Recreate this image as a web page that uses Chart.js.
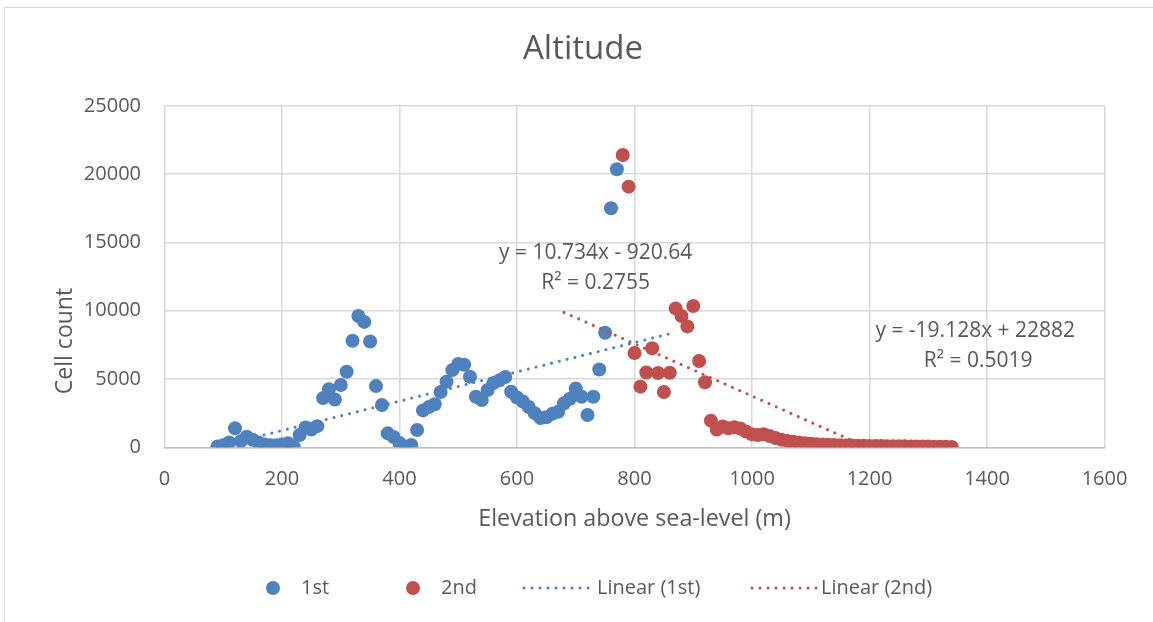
<!DOCTYPE html>
<html>
<head>
<meta charset="utf-8">
<script src="https://cdn.jsdelivr.net/npm/chart.js@4.4.1/dist/chart.umd.min.js"></script>
<style>
  html, body { margin: 0; padding: 0; background: #fff; }
  #wrap { position: relative; width: 1153px; height: 622px; overflow: hidden; }
  #frame { position: absolute; left: 4px; top: 7px; width: 1170px; height: 640px; border: 1px solid #d9d9d9; box-sizing: border-box; }
  #chart { position: absolute; left: 0; top: 0; }
</style>
</head>
<body>
<div id="wrap">
  <div id="frame"></div>
  <canvas id="chart" width="1153" height="622"></canvas>
</div>
<script>
// ── Data ──────────────────────────────────────────────────────────────────────
const elev1 = [90, 100, 110, 120, 130, 140, 150, 160, 170, 180, 190, 200, 210, 220, 230, 240, 250, 260,
  270, 280, 290, 300, 310, 320, 330, 340, 350, 360, 370, 380, 390, 400, 410, 420, 430, 440, 450, 460,
  470, 480, 490, 500, 510, 520, 530, 540, 550, 560, 570, 580, 590, 600, 610, 620, 630, 640, 650, 660,
  670, 680, 690, 700, 710, 720, 730, 740, 750, 760, 770];
const count1 = [50, 150, 350, 1390, 450, 780, 550, 350, 200, 150, 150, 200, 300, 50, 900, 1450, 1300, 1550,
  3600, 4250, 3500, 4560, 5530, 7800, 9610, 9180, 7750, 4480, 3100, 1020, 750, 320, 60, 170, 1270, 2700, 2950, 3150,
  4050, 4800, 5650, 6100, 6050, 5170, 3700, 3460, 4200, 4700, 4900, 5150, 4070, 3650, 3350, 2950, 2500, 2150, 2200, 2450,
  2600, 3220, 3550, 4300, 3700, 2360, 3700, 5700, 8390, 17500, 20350];

const elev2 = [780, 790, 800, 810, 820, 830, 840, 850, 860, 870, 880, 890, 900, 910, 920, 930, 940, 950,
  960, 970, 980, 990, 1000, 1010, 1020, 1030, 1040, 1050, 1060, 1070, 1080, 1090, 1100, 1110, 1120, 1130,
  1140, 1150, 1160, 1170, 1180, 1190, 1200, 1210, 1220, 1230, 1240, 1250, 1260, 1270, 1280, 1290, 1300,
  1310, 1320, 1330, 1340];
const count2 = [21400, 19080, 6900, 4440, 5480, 7250, 5440, 4050, 5460, 10170, 9610, 8850, 10340, 6320, 4760, 1950, 1300, 1520,
  1400, 1460, 1380, 1150, 950, 900, 950, 820, 680, 560, 470, 400, 350, 300, 260, 230, 200, 180,
  160, 145, 135, 125, 115, 105, 100, 95, 90, 85, 80, 75, 70, 65, 60, 55, 50,
  45, 40, 35, 30];

// trendline equations as shown on the chart
const trend1 = { slope: 10.734, intercept: -920.64, from: 90, to: 870 };
const trend2 = { slope: -19.128, intercept: 22882, from: 680, to: 1340 };
const trendText1 = ['y = 10.734x - 920.64', 'R² = 0.2755'];
const trendText2 = ['y = -19.128x + 22882', 'R² = 0.5019'];

const xTicks = { min: 0, max: 1600, step: 200 };
const yTicks = { min: 0, max: 25000, step: 5000 };

// ── Style ─────────────────────────────────────────────────────────────────────
const blue = '#4f81bd';
const red = '#c0504d';
const textColor = '#595959';
const gridColor = '#d9d9d9';
const family = '"Open Sans", "Noto Sans", sans-serif';

// label anchors, in data units
const trendLabelPos = [
  { lines: trendText1, at: [[734, 14224], [734, 12030]] },
  { lines: trendText2, at: [[1380, 8480], [1385, 6318]] },
];

// legend layout, in pixels
const legendY = 588;
const legendItems = [
  { text: '1st', color: blue, kind: 'dot', x: 273, textX: 301 },
  { text: '2nd', color: red, kind: 'dot', x: 413, textX: 441 },
  { text: 'Linear (1st)', color: blue, kind: 'line', x: 524, textX: 597 },
  { text: 'Linear (2nd)', color: red, kind: 'line', x: 752, textX: 821 },
];

const toPoints = (xs, ys) => xs.map((x, i) => ({ x, y: ys[i] }));
const trendPoints = t => [t.from, t.to].map(x => ({ x, y: t.slope * x + t.intercept }));

// ── Overlay: titles, trendline labels, legend ────────────────────────────────
const overlay = {
  id: 'overlay',
  afterDraw(chart) {
    const { ctx, scales: { x, y } } = chart;
    ctx.save();
    ctx.fillStyle = textColor;
    ctx.textBaseline = 'middle';
    ctx.textAlign = 'center';

    ctx.font = `33px ${family}`;
    ctx.fillText('Altitude', 583, 50);

    // y axis title sits a bit below the plot's middle in the original
    ctx.save();
    ctx.font = `23px ${family}`;
    ctx.translate(65, 341);
    ctx.rotate(-Math.PI / 2);
    ctx.fillText('Cell count', 0, 0);
    ctx.restore();

    ctx.font = `21px ${family}`;
    trendLabelPos.forEach(t => {
      t.lines.forEach((line, i) => {
        ctx.fillText(line, x.getPixelForValue(t.at[i][0]), y.getPixelForValue(t.at[i][1]));
      });
    });

    ctx.font = `20px ${family}`;
    ctx.textAlign = 'left';
    legendItems.forEach(item => {
      if (item.kind === 'dot') {
        ctx.fillStyle = item.color;
        ctx.beginPath();
        ctx.arc(item.x, legendY, 7, 0, Math.PI * 2);
        ctx.fill();
      } else {
        ctx.strokeStyle = item.color;
        ctx.lineWidth = 3;
        ctx.lineCap = 'round';
        ctx.setLineDash([0.01, 8]);
        ctx.beginPath();
        ctx.moveTo(item.x, legendY);
        ctx.lineTo(item.x + 66, legendY);
        ctx.stroke();
        ctx.setLineDash([]);
      }
      ctx.fillStyle = textColor;
      ctx.fillText(item.text, item.textX, legendY);
    });
    ctx.restore();
  }
};

const trendStyle = color => ({
  showLine: true,
  borderColor: color,
  borderWidth: 3,
  borderCapStyle: 'round',
  borderDash: [0.01, 8],
  pointRadius: 0,
  pointHoverRadius: 0,
  fill: false,
});

const plainNumber = v => String(v);

new Chart(document.getElementById('chart'), {
  type: 'scatter',
  data: {
    datasets: [
      { label: '1st', data: toPoints(elev1, count1), backgroundColor: blue, borderWidth: 0,
        pointRadius: 7, order: 4 },
      { label: '2nd', data: toPoints(elev2, count2), backgroundColor: red, borderWidth: 0,
        pointRadius: 7, order: 3 },
      { label: 'Linear (1st)', data: trendPoints(trend1), order: 2, ...trendStyle(blue) },
      { label: 'Linear (2nd)', data: trendPoints(trend2), order: 1, ...trendStyle(red) },
    ]
  },
  options: {
    responsive: false,
    animation: false,
    devicePixelRatio: 1,
    layout: { padding: { left: 0, right: 48.5, top: 105.8, bottom: 0 } },
    plugins: {
      legend: { display: false },
      title: { display: false },
      tooltip: { enabled: false },
    },
    scales: {
      x: {
        type: 'linear',
        min: xTicks.min, max: xTicks.max,
        ticks: { stepSize: xTicks.step, color: textColor, font: { size: 20, family }, padding: 20,
          callback: plainNumber },
        grid: { color: gridColor, lineWidth: 1.5, drawTicks: false },
        border: { color: '#bfbfbf', width: 1.5 },
        title: { display: true, text: 'Elevation above sea-level (m)', color: textColor,
          font: { size: 23.3, family }, padding: { top: 0, bottom: 89 } },
        afterFit(s) { s.height = 174.7; },
      },
      y: {
        min: yTicks.min, max: yTicks.max,
        ticks: { stepSize: yTicks.step, color: textColor, font: { size: 20, family }, padding: 23.5,
          callback: plainNumber },
        grid: { color: gridColor, lineWidth: 1.5, drawTicks: false },
        border: { display: false },
        afterFit(s) { s.width = 164.5; },
      }
    }
  },
  plugins: [overlay]
});
</script>
</body>
</html>
